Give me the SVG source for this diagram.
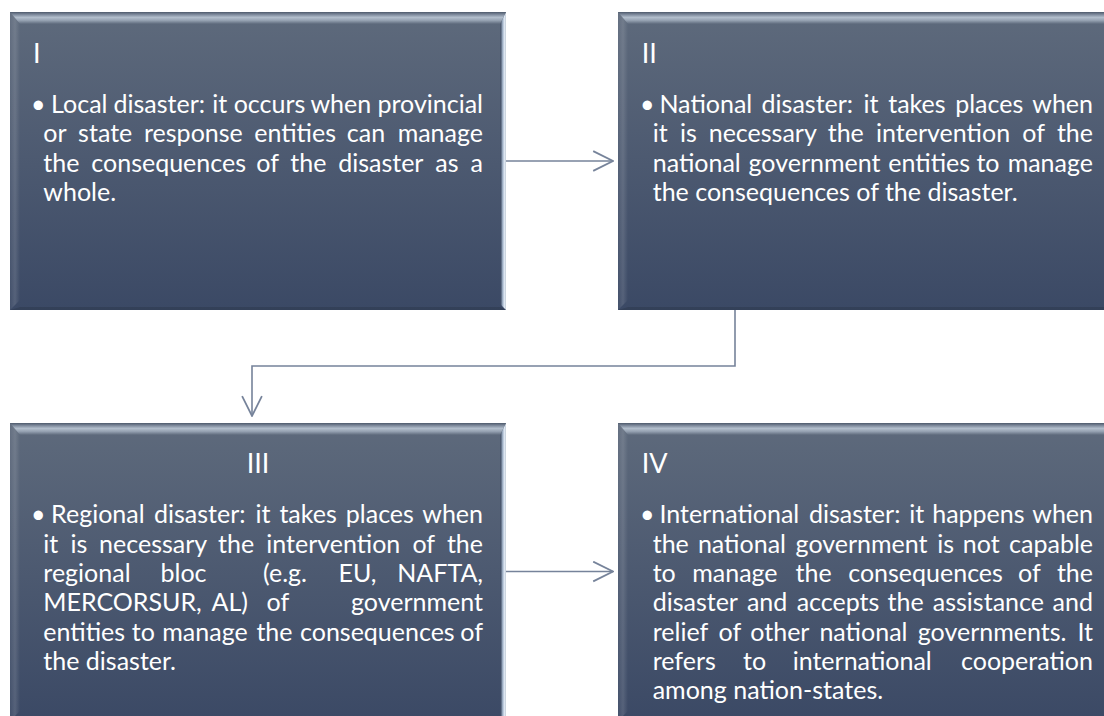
<svg xmlns="http://www.w3.org/2000/svg" width="1104" height="716" viewBox="0 0 1104 716">
<style>
.t{font-family:Lato,"Open Sans","Liberation Sans",sans-serif;font-size:25px;fill:#ffffff}
.h{font-size:27px}
.e{text-anchor:end}
.c{fill:none;stroke:#76839a;stroke-width:1.6}
</style>
<defs>
<linearGradient id="face" x1="0" y1="0" x2="0" y2="1">
<stop offset="0" stop-color="#5e6a7c"/>
<stop offset="1" stop-color="#3b4965"/>
</linearGradient>
<linearGradient id="bevT" x1="0" y1="0" x2="0" y2="1">
<stop offset="0" stop-color="#4d596b"/>
<stop offset="0.2" stop-color="#7b8799"/>
<stop offset="0.45" stop-color="#b2becc"/>
<stop offset="0.7" stop-color="#96a2b2"/>
<stop offset="1" stop-color="#5d697b"/>
</linearGradient>
<linearGradient id="bevL" x1="0" y1="0" x2="1" y2="0">
<stop offset="0" stop-color="#ffffff" stop-opacity="0.04"/>
<stop offset="0.5" stop-color="#ffffff" stop-opacity="0.13"/>
<stop offset="1" stop-color="#ffffff" stop-opacity="0"/>
</linearGradient>
<linearGradient id="bevR" x1="0" y1="0" x2="1" y2="0">
<stop offset="0" stop-color="#2e3a52" stop-opacity="0.5"/>
<stop offset="0.45" stop-color="#a6b7cc"/>
<stop offset="0.8" stop-color="#e6eef8"/>
<stop offset="1" stop-color="#b8c2cc"/>
</linearGradient>
<g id="box">
<rect x="0" y="0" width="496" height="298" fill="url(#face)"/>
<polygon points="0,0 10,12 10,288 0,298" fill="url(#bevL)"/>
<polygon points="496,0 496,298 490,292 490,12" fill="url(#bevR)"/>
<polygon points="0,298 496,298 490,295 10,295" fill="#000000" fill-opacity="0.12"/>
<polygon points="0,0 496,0 490,12 10,12" fill="url(#bevT)"/>
</g>
<marker id="arr" markerUnits="userSpaceOnUse" markerWidth="22" markerHeight="22" viewBox="0 0 20 20" refX="19" refY="10" orient="auto">
<path d="M1,1 L19,10 L1,19" fill="none" stroke="#76839a" stroke-width="1.6"/>
</marker>
</defs>
<rect x="0" y="0" width="1104" height="716" fill="#ffffff"/>

<g id="connectors">
<path class="c" d="M506,161 H613" marker-end="url(#arr)"/>
<path class="c" d="M735,309 V366 H252 V416" marker-end="url(#arr)"/>
<path class="c" d="M506,571.5 H613" marker-end="url(#arr)"/>
</g>

<g id="node-I">
<use href="#box" x="10" y="12"/>
<text class="t h" x="33" y="62.7">I</text>
<text class="t" y="113"><tspan x="31">•</tspan><tspan x="44.7"> Local </tspan><tspan x="113.5">disaster: </tspan><tspan x="212.3">it </tspan><tspan x="233.7">occurs </tspan><tspan x="310.4">when </tspan><tspan class="e" x="483">provincial</tspan></text>
<text class="t" y="142.3"><tspan x="43.3">or </tspan><tspan x="78.1">state </tspan><tspan x="144">response </tspan><tspan x="254.2">entities </tspan><tspan x="346.8">can </tspan><tspan class="e" x="483">manage</tspan></text>
<text class="t" y="171.6"><tspan x="43.3">the </tspan><tspan x="91.3">consequences </tspan><tspan x="256.3">of </tspan><tspan x="290.3">the </tspan><tspan x="338.2">disaster </tspan><tspan x="435.3">as </tspan><tspan class="e" x="483">a</tspan></text>
<text class="t" x="43.3" y="200.9">whole.</text>
</g>

<g id="node-II">
<use href="#box" x="618" y="12"/>
<text class="t h" x="641.7" y="62.7">II</text>
<text class="t" y="113"><tspan x="640">•</tspan><tspan x="653"> National </tspan><tspan x="761.6">disaster: </tspan><tspan x="863.5">it </tspan><tspan x="888.2">takes </tspan><tspan x="955.2">places </tspan><tspan class="e" x="1093">when</tspan></text>
<text class="t" y="142.3"><tspan x="652.7">it </tspan><tspan x="679.9">is </tspan><tspan x="708.7">necessary </tspan><tspan x="827.7">the </tspan><tspan x="876.1">intervention </tspan><tspan x="1022.3">of </tspan><tspan class="e" x="1093">the</tspan></text>
<text class="t" y="171.6"><tspan x="652.7">national </tspan><tspan x="748.5">government </tspan><tspan x="888.3">entities </tspan><tspan x="976.4">to </tspan><tspan class="e" x="1093">manage</tspan></text>
<text class="t" x="652.7" y="200.9">the consequences of the disaster.</text>
</g>

<g id="node-III">
<use href="#box" x="10" y="423"/>
<text class="t h" x="258" y="473" text-anchor="middle">III</text>
<text class="t" y="523.3"><tspan x="31">•</tspan><tspan x="44.7"> Regional </tspan><tspan x="154">disaster: </tspan><tspan x="255.4">it </tspan><tspan x="279.4">takes </tspan><tspan x="345.8">places </tspan><tspan class="e" x="483">when</tspan></text>
<text class="t" y="552.6"><tspan x="43.3">it </tspan><tspan x="70.4">is </tspan><tspan x="99.1">necessary </tspan><tspan x="218">the </tspan><tspan x="266.3">intervention </tspan><tspan x="412.4">of </tspan><tspan class="e" x="483">the</tspan></text>
<text class="t" y="581.9"><tspan x="43.3">regional </tspan><tspan x="160.5">bloc </tspan><tspan x="263">(e.g. </tspan><tspan x="338.5">EU, </tspan><tspan class="e" x="483">NAFTA,</tspan></text>
<text class="t" y="611.2"><tspan x="43.3">MERCORSUR, </tspan><tspan x="211.5">AL) </tspan><tspan x="266.5">of </tspan><tspan class="e" x="483">government</tspan></text>
<text class="t" y="640.5"><tspan x="43.3">entities </tspan><tspan x="131.8">to </tspan><tspan x="162.3">manage </tspan><tspan x="256.4">the </tspan><tspan x="300">consequences </tspan><tspan class="e" x="483">of</tspan></text>
<text class="t" x="43.3" y="669.8">the disaster.</text>
</g>

<g id="node-IV">
<use href="#box" x="618" y="423"/>
<text class="t h" x="641.7" y="473">IV</text>
<text class="t" y="523.3"><tspan x="640">•</tspan><tspan x="653"> International </tspan><tspan x="808.9">disaster: </tspan><tspan x="909.3">it </tspan><tspan x="932.2">happens </tspan><tspan class="e" x="1093">when</tspan></text>
<text class="t" y="552.6"><tspan x="652.7">the </tspan><tspan x="697.9">national </tspan><tspan x="795.6">government </tspan><tspan x="937.3">is </tspan><tspan x="962.8">not </tspan><tspan class="e" x="1093">capable</tspan></text>
<text class="t" y="581.9"><tspan x="652.7">to </tspan><tspan x="692.2">manage </tspan><tspan x="795.5">the </tspan><tspan x="848.2">consequences </tspan><tspan x="1018.1">of </tspan><tspan class="e" x="1093">the</tspan></text>
<text class="t" y="611.2"><tspan x="652.7">disaster </tspan><tspan x="746.9">and </tspan><tspan x="796.7">accepts </tspan><tspan x="887.6">the </tspan><tspan x="932.8">assistance </tspan><tspan class="e" x="1093">and</tspan></text>
<text class="t" y="640.5"><tspan x="652.7">relief </tspan><tspan x="718.5">of </tspan><tspan x="750.3">other </tspan><tspan x="819.4">national </tspan><tspan x="917.8">governments. </tspan><tspan class="e" x="1093">It</tspan></text>
<text class="t" y="669.8"><tspan x="652.7">refers </tspan><tspan x="743.1">to </tspan><tspan x="792.7">international </tspan><tspan class="e" x="1093">cooperation</tspan></text>
<text class="t" x="652.7" y="699.1">among nation-states.</text>
</g>
</svg>
